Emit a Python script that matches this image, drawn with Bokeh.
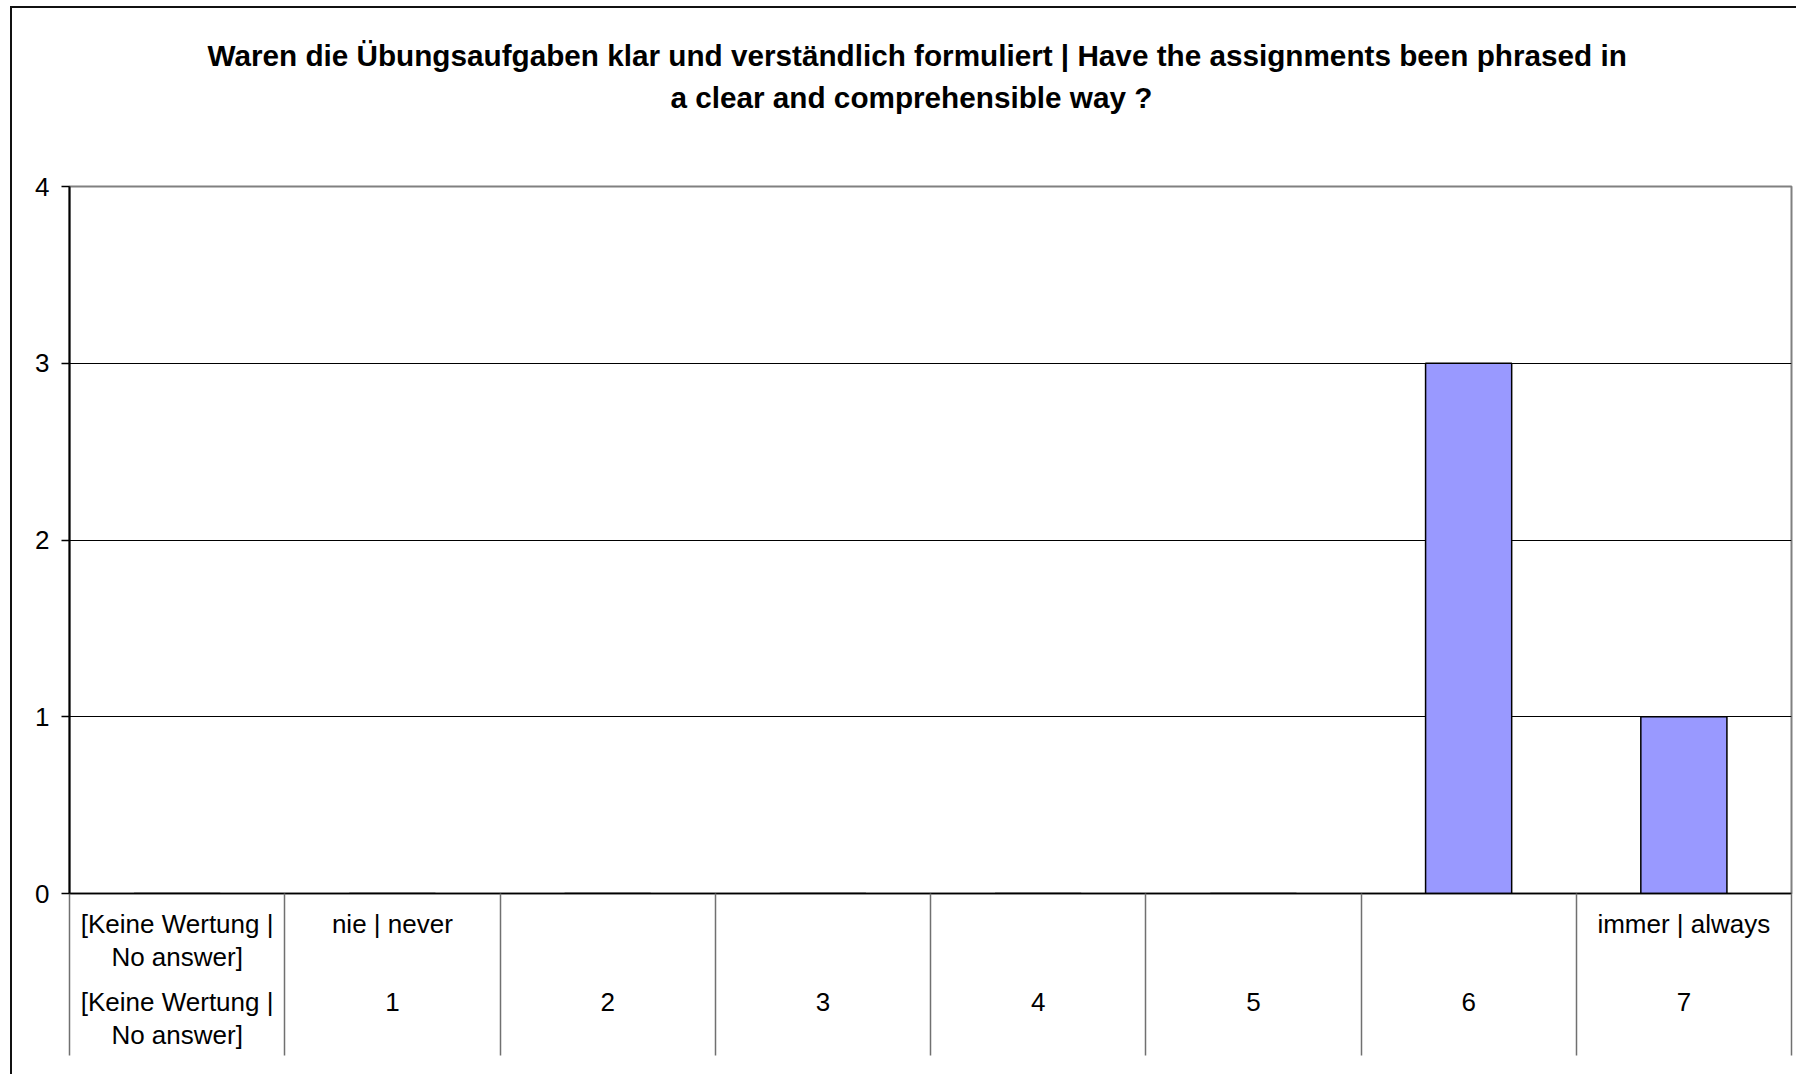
from bokeh.plotting import figure
from bokeh.models import Range1d, FixedTicker, LinearAxis, Title
from bokeh.embed import file_html
from bokeh.resources import INLINE

title_line1 = "Waren die Übungsaufgaben klar und verständlich formuliert | Have the assignments been phrased in"
title_line2 = "a clear and comprehensible way ?"
scale_labels = ["[Keine Wertung |\nNo answer]", "nie | never", "", "", "", "", "", "immer | always"]
scale_values = ["[Keine Wertung |\nNo answer]", "1", "2", "3", "4", "5", "6", "7"]
counts = [0, 0, 0, 0, 0, 0, 3, 1]
y_ticks = [0, 1, 2, 3, 4]

FONT = "Liberation Sans"
LABEL_SIZE = "26px"
positions = list(range(1, len(counts) + 1))
boundaries = [x - 0.5 for x in positions] + [len(counts) + 0.5]

p = figure(width=1786, height=1068,
           x_range=Range1d(0.5, len(counts) + 0.5), y_range=Range1d(0, max(y_ticks)),
           output_backend="svg", toolbar_location=None,
           min_border_left=57, min_border_right=7, min_border_top=178, min_border_bottom=183,
           x_axis_location=None)
p.title.visible = False
p.styles = {"margin-left": "10px", "margin-top": "6px",
            "border-left": "2px solid #111", "border-top": "2px solid #111"}
p.outline_line_color = "#808080"
p.outline_line_width = 2
p.background_fill_color = "white"
p.border_fill_color = "white"

p.vbar(x=positions, top=counts, width=0.4, fill_color="#9999FF",
       line_color="black", line_width=1.5)

p.xgrid.visible = False
p.ygrid.ticker = FixedTicker(ticks=y_ticks)
p.ygrid.grid_line_color = "black"
p.ygrid.grid_line_width = 1

ya = p.yaxis[0]
ya.ticker = FixedTicker(ticks=y_ticks)
ya.major_tick_out = 8
ya.major_tick_in = 0
ya.minor_tick_out = 0
ya.minor_tick_in = 0
ya.axis_line_color = "black"
ya.axis_line_width = 2
ya.major_tick_line_color = "black"
ya.major_tick_line_width = 1.5
ya.major_label_standoff = 12
ya.major_label_text_font = FONT
ya.major_label_text_font_size = LABEL_SIZE
ya.major_label_text_color = "black"

ax1 = LinearAxis(ticker=FixedTicker(ticks=positions, minor_ticks=[]),
                 major_label_overrides={pos: lab for pos, lab in zip(positions, scale_labels)},
                 major_tick_out=0, major_tick_in=0, minor_tick_in=0, minor_tick_out=0,
                 major_tick_line_color=None, minor_tick_line_color=None,
                 axis_line_color="black", axis_line_width=1.5,
                 major_label_standoff=15, major_label_text_font=FONT,
                 major_label_text_font_size=LABEL_SIZE, major_label_text_color="black",
                 major_label_text_line_height=1.1)
p.add_layout(ax1, "below")

ax2 = LinearAxis(ticker=FixedTicker(ticks=positions, minor_ticks=[]),
                 major_label_overrides={pos: lab for pos, lab in zip(positions, scale_values)},
                 major_tick_out=0, major_tick_in=0, minor_tick_in=0, minor_tick_out=0,
                 axis_line_color=None, major_tick_line_color=None, minor_tick_line_color=None,
                 major_label_standoff=12, major_label_text_font=FONT,
                 major_label_text_font_size=LABEL_SIZE, major_label_text_color="black",
                 major_label_text_line_height=1.1)
p.add_layout(ax2, "below")

# separators between the categories, drawn as long inward minor ticks
ax3 = LinearAxis(ticker=FixedTicker(ticks=[], minor_ticks=boundaries),
                 major_tick_out=0, major_tick_in=0, minor_tick_in=159, minor_tick_out=3,
                 axis_line_color=None, major_tick_line_color=None,
                 minor_tick_line_color="#707070", minor_tick_line_width=1.5,
                 major_label_standoff=0, major_label_text_font_size="1px")
p.add_layout(ax3, "below")

spacer = Title(text=" ", text_font_size="2px", standoff=69)
p.add_layout(spacer, "above")
t2 = Title(text=title_line2, align="left", offset=601, text_font=FONT, text_font_size="29.7px",
           text_font_style="bold", text_color="black", standoff=0)
p.add_layout(t2, "above")
t1 = Title(text=title_line1, align="left", offset=138, text_font=FONT, text_font_size="29.7px",
           text_font_style="bold", text_color="black", standoff=13)
p.add_layout(t1, "above")

open("out.html", "w").write(file_html(p, INLINE))
